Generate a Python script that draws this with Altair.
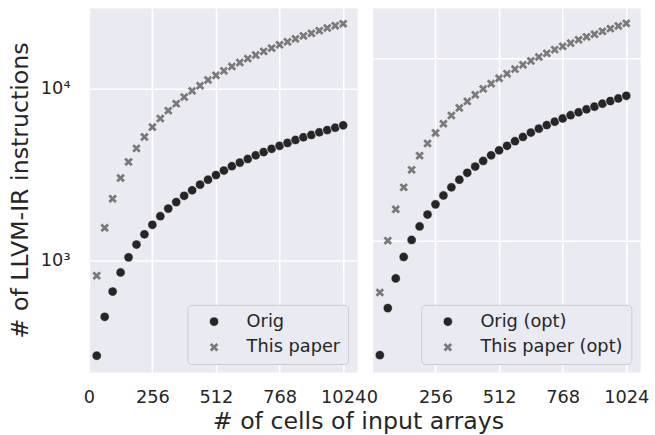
import altair as alt
import pandas as pd

# x positions (number of cells)
cells = [32, 64, 96, 128, 160, 192, 224, 256, 288, 320, 352, 384, 416, 448, 480, 512,
         544, 576, 608, 640, 672, 704, 736, 768, 800, 832, 864, 896, 928, 960, 992, 1024]

# left panel
orig = [282, 474, 664, 857, 1049, 1245, 1427, 1621, 1818, 2012, 2195, 2388, 2571, 2772, 2961, 3150,
        3347, 3546, 3720, 3906, 4101, 4283, 4474, 4654, 4842, 5038, 5220, 5381, 5576, 5748, 5932, 6120]
paper = [821, 1557, 2295, 3028, 3754, 4498, 5241, 5978, 6707, 7453, 8174, 8928, 9701, 10404, 11215, 11930,
         12678, 13437, 14164, 14931, 15657, 16441, 17172, 17960, 18687, 19442, 20223, 20929, 21690, 22477, 23166, 23786]

# right panel
orig_opt = [236, 427, 621, 814, 1009, 1196, 1389, 1579, 1766, 1958, 2155, 2351, 2544, 2731, 2931, 3120,
            3304, 3502, 3694, 3904, 4102, 4290, 4476, 4662, 4859, 5043, 5235, 5414, 5619, 5811, 6003, 6209]
paper_opt = [520, 1000, 1484, 1958, 2441, 2917, 3403, 3884, 4365, 4841, 5327, 5783, 6285, 6772, 7235, 7738,
             8196, 8687, 9167, 9634, 10125, 10602, 11101, 11567, 12053, 12576, 13053, 13481, 13993, 14472, 14966, 15461]

left_names = ["Orig", "This paper"]
right_names = ["Orig (opt)", "This paper (opt)"]
x_ticks = [0, 256, 512, 768, 1024]
y_ticks = [1000, 10000]

X_PATH = "M0.5,-1L1,-0.5L0.5,0L1,0.5L0.5,1L0,0.5L-0.5,1L-1,0.5L-0.5,0L-1,-0.5L-0.5,-1L0,-0.5Z"
COLORS = ["#262626", "#7a7a7a"]

df_left = pd.DataFrame({
    "x": cells + cells,
    "y": orig + paper,
    "series": [left_names[0]] * len(cells) + [left_names[1]] * len(cells),
})
df_right = pd.DataFrame({
    "x": cells + cells,
    "y": orig_opt + paper_opt,
    "series": [right_names[0]] * len(cells) + [right_names[1]] * len(cells),
})


def panel(df, names, ydomain, show_y, legend_x):
    yaxis = (alt.Axis(values=y_ticks, labelExpr="datum.value == 1000 ? '10³' : '10⁴'",
                      title="# of LLVM-IR instructions", titleFontSize=24, titlePadding=8,
                      labelPadding=19, grid=True)
             if show_y else
             alt.Axis(values=y_ticks, labels=False, title=None, grid=True))
    return alt.Chart(df).mark_point(filled=True, opacity=1, stroke="white", strokeWidth=0.6).encode(
        x=alt.X("x:Q", scale=alt.Scale(domain=[0, 1080], nice=False, zero=False),
                axis=alt.Axis(values=x_ticks, format="d", title=None, labelFlush=False,
                              labelOverlap=False, labelPadding=17, grid=True, labelBound=False)),
        y=alt.Y("y:Q", scale=alt.Scale(type="log", domain=ydomain, nice=False), axis=yaxis),
        color=alt.Color("series:N", scale=alt.Scale(domain=names, range=COLORS),
                        legend=alt.Legend(title=None, orient="none", legendX=legend_x, legendY=301)),
        shape=alt.Shape("series:N", scale=alt.Scale(domain=names, range=["circle", X_PATH]),
                        legend=alt.Legend(title=None, orient="none", legendX=legend_x, legendY=301)),
        size=alt.Size("series:N", scale=alt.Scale(domain=names, range=[88, 90]), legend=None),
    ).properties(width=272, height=369)


left = panel(df_left, left_names, [227, 29380], True, 100)
right = panel(df_right, right_names, [191, 18790], False, 50)

chart = alt.hconcat(left, right, spacing=15, bounds="flush").resolve_scale(
    x="independent", y="independent", color="independent", shape="independent", size="independent"
).resolve_legend(color="independent", shape="independent").properties(
    title=alt.TitleParams("# of cells of input arrays", orient="bottom", anchor="middle",
                          fontSize=24, fontWeight="normal", color="#262626", offset=3, dx=30),
    padding={"left": 8, "top": 4, "right": 5, "bottom": 5},
).configure(font="DejaVu Sans").configure_view(
    fill="#EAEAF2", stroke="transparent"
).configure_axis(
    domain=False, ticks=False, gridColor="white", gridWidth=1.6, gridOpacity=1,
    labelColor="#262626", labelFontSize=18, titleColor="#262626", titleFontWeight="normal",
).configure_legend(
    fillColor="#EAEAF2", strokeColor="#cccccc", cornerRadius=4, padding=8, rowPadding=8,
    labelFontSize=18, labelColor="#262626", symbolSize=120, labelOffset=24, symbolOffset=10,
    symbolStrokeColor="white", symbolStrokeWidth=0.6,
)

chart.save("out.html", embed_options={"renderer": "svg", "actions": False})
